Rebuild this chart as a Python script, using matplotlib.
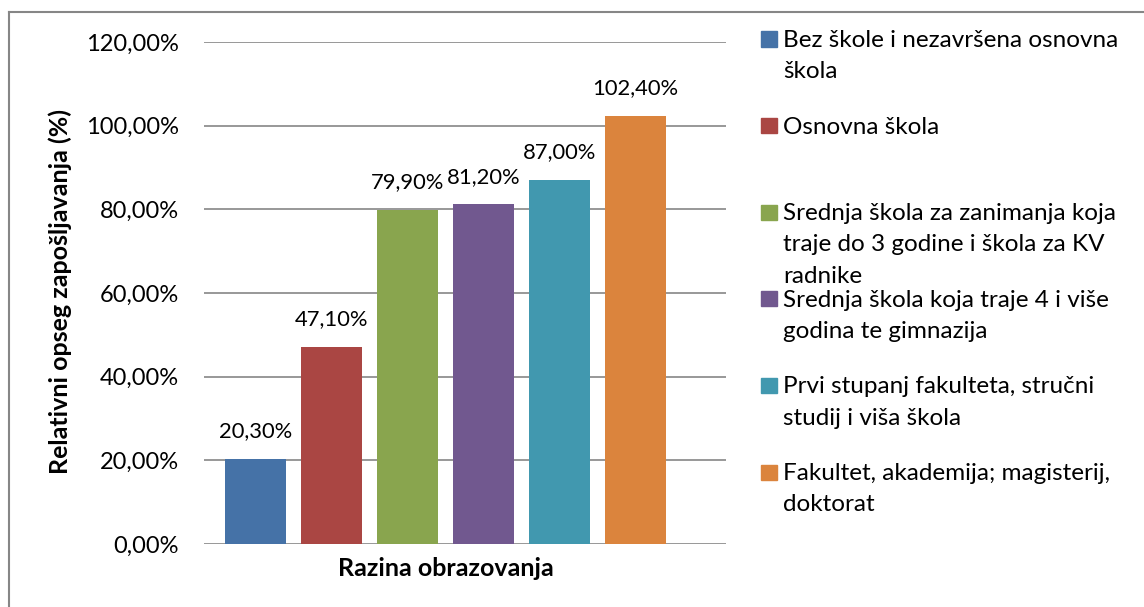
import matplotlib
matplotlib.use("Agg")
import matplotlib.pyplot as plt
from matplotlib.lines import Line2D
from matplotlib.patches import Rectangle

plt.rcParams['font.family'] = ['Lato', 'DejaVu Sans']

categories = [
    'Bez škole i nezavršena osnovna\nškola',
    'Osnovna škola',
    'Srednja škola za zanimanja koja\ntraje do 3 godine i škola za KV\nradnike',
    'Srednja škola koja traje 4 i više\ngodina te gimnazija',
    'Prvi stupanj fakulteta, stručni\nstudij i viša škola',
    'Fakultet, akademija; magisterij,\ndoktorat',
]
values = [20.3, 47.1, 79.9, 81.2, 87.0, 102.4]
colors = ['#4572a7', '#aa4643', '#89a54e', '#71588f', '#4198af', '#db843d']
yticks = [0, 20, 40, 60, 80, 100, 120]

W, H = 1144, 607
fig = plt.figure(figsize=(W / 100, H / 100), dpi=100)
ax = fig.add_axes([204 / W, 1 - 544 / H, 522 / W, 502 / H])

x = list(range(len(values)))
ax.bar(x, values, width=0.8, color=colors, zorder=3)
for xi, v in zip(x, values):
    ax.text(xi, v + 4.2, f'{v:.2f}%'.replace('.', ','), ha='center', va='bottom',
            fontsize=15.8)

ax.set_xlim(-0.676, 6.19)
ax.set_ylim(0, 120)
ax.set_yticks(yticks)
ax.set_yticklabels([f'{t:.2f}%'.replace('.', ',') for t in yticks], fontsize=17)
ax.set_xticks([])
ax.grid(axis='y', color='#868686', linewidth=1.2, zorder=0)
for s in ax.spines.values():
    s.set_visible(False)
ax.tick_params(axis='y', length=0, pad=18)

# axis titles
fig.text(60 / W, 1 - 292 / H, 'Relativni opseg zapošljavanja (%)', rotation=90,
         ha='center', va='center', fontsize=18, fontweight='bold')
fig.text(446 / W, 1 - 568 / H, 'Razina obrazovanja', ha='center', va='center',
         fontsize=18, fontweight='bold')

# legend, drawn by hand like the Excel one
for i, (lab, c) in enumerate(zip(categories, colors)):
    yc = 39 + i * 86.6
    fig.patches.append(Rectangle((761 / W, 1 - (yc + 7.5) / H), 16 / W, 15 / H,
                                 transform=fig.transFigure, color=c))
    fig.text(783 / W, 1 - (yc - 9) / H, lab, ha='left', va='top', fontsize=17.5,
             linespacing=1.6)

# frame (only left and top edges visible)
fig.lines.append(Line2D([8.5 / W, 8.5 / W], [0, 1 - 12 / H], transform=fig.transFigure,
                        color='#868686', linewidth=1.5))
fig.lines.append(Line2D([8.5 / W, 1], [1 - 12 / H, 1 - 12 / H], transform=fig.transFigure,
                        color='#868686', linewidth=1.5))

fig.savefig('out.png', dpi=100)
